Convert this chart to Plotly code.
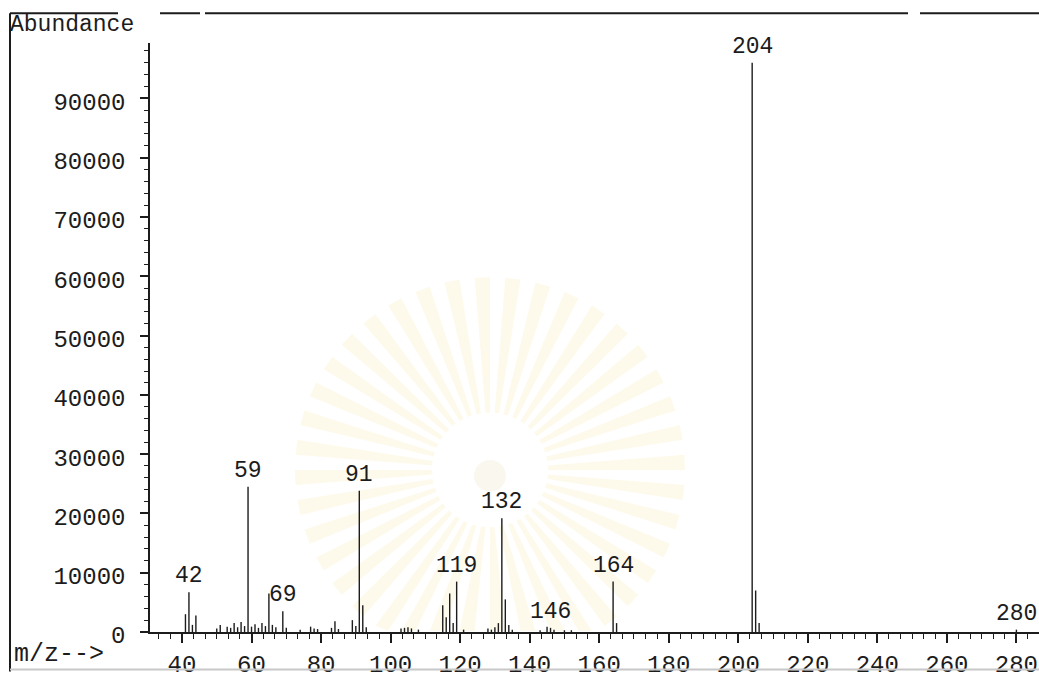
import math
import plotly.graph_objects as go

# ---- spectrum data (m/z, abundance) ----
mz = [41, 42, 43, 44, 50, 51, 53, 54, 55, 56, 57, 58, 59, 60, 61, 62, 63, 64,
      65, 66, 67, 69, 70, 74, 77, 78, 79, 83, 84, 85, 89, 90, 91, 92, 93,
      103, 104, 105, 106, 108, 115, 116, 117, 118, 119, 121, 128, 129, 130,
      131, 132, 133, 134, 135, 143, 145, 146, 147, 150, 152, 164, 165,
      204, 205, 206, 280]
abundance = [3000, 6700, 1200, 2800, 600, 1200, 900, 700, 1500, 800, 1700, 1000, 24500, 900, 1300, 700, 1500, 1000,
             6500, 1200, 800, 3500, 700, 400, 900, 600, 500, 700, 1800, 500, 2000, 1000, 23800, 4500, 800,
             600, 700, 800, 600, 400, 4500, 2500, 6500, 1500, 8500, 400, 600, 400, 800,
             1500, 19200, 5500, 1200, 400, 300, 900, 700, 400, 300, 300, 8500, 1500,
             96000, 7000, 1500, 400]
labelled_mz = [42, 59, 69, 91, 119, 132, 146, 164, 204, 280]

x_ticks = list(range(40, 281, 20))
y_ticks = list(range(0, 90001, 10000))

# ---- page geometry ----
W, H = 1039, 679
ML, MR, MT, MB = 150, 0, 43, 40
PW, PH = W - ML - MR, H - MT - MB

INK = "#1c1c1c"
FONT = "Liberation Mono"


def px(xp):
    return (xp - ML) / PW


def py(yp):
    return (H - MB - yp) / PH


# stems
xs, ys = [], []
for m, v in zip(mz, abundance):
    xs += [m, m, None]
    ys += [0, v, None]

fig = go.Figure()
fig.add_trace(go.Scatter(x=xs, y=ys, mode="lines",
                         line=dict(color=INK, width=1.4),
                         hoverinfo="skip", showlegend=False))

# peak labels
annotations = []
for m in labelled_mz:
    v = abundance[mz.index(m)]
    annotations.append(dict(x=m, y=v, xref="x", yref="y", text=str(m),
                            showarrow=False, yanchor="middle", yshift=16,
                            font=dict(family=FONT, size=23, color=INK)))

annotations.append(dict(x=px(8), y=py(25), xref="paper", yref="paper",
                        text="Abundance", showarrow=False, xanchor="left",
                        yanchor="middle", font=dict(family=FONT, size=23, color=INK)))
annotations.append(dict(x=px(12), y=py(662), xref="paper", yref="paper",
                        text="m/z-->", showarrow=False, xanchor="left",
                        yanchor="middle", font=dict(family=FONT, size=25, color=INK)))

# faint emblem in the background
shapes = []
cx, cy, r0, r1 = 490, 475, 58, 195
n_rays = 40
for k in range(n_rays):
    a0 = 2 * math.pi * k / n_rays
    a1 = a0 + 2 * math.pi / n_rays * 0.5
    pts = []
    for a, r in [(a0, r0), (a0, r1), (a1, r1), (a1, r0)]:
        xx = cx + r * math.cos(a)
        yy = min(cy - r * math.sin(a), 638)
        pts.append((px(xx), py(yy)))
    path = "M " + " L ".join(f"{p[0]:.5f},{p[1]:.5f}" for p in pts) + " Z"
    shapes.append(dict(type="path", path=path, xref="paper", yref="paper",
                       fillcolor="rgba(246,230,170,0.22)", line=dict(width=0),
                       layer="below"))
shapes.append(dict(type="circle", xref="paper", yref="paper",
                   x0=px(cx - 16), x1=px(cx + 16), y0=py(cy + 22), y1=py(cy - 10),
                   fillcolor="rgba(240,232,210,0.35)", line=dict(width=0),
                   layer="below"))

# outer frame of the printout
frame = dict(color=INK, width=2)
for x0, x1 in [(10, 118), (160, 200), (205, 908), (920, 1039)]:
    shapes.append(dict(type="line", xref="paper", yref="paper",
                       x0=px(x0), x1=px(x1), y0=py(13), y1=py(13), line=frame))
shapes.append(dict(type="line", xref="paper", yref="paper",
                   x0=px(10), x1=px(10), y0=py(13), y1=py(679), line=frame))
shapes.append(dict(type="line", xref="paper", yref="paper",
                   x0=px(10), x1=px(1039), y0=py(677), y1=py(677),
                   line=dict(color="#c8c8c8", width=2)))

fig.update_layout(
    width=W, height=H,
    margin=dict(l=ML, r=MR, t=MT, b=MB),
    paper_bgcolor="white", plot_bgcolor="white",
    annotations=annotations, shapes=shapes,
    showlegend=False,
)
fig.update_xaxes(
    range=[30.8, 286.5], showgrid=False, zeroline=False,
    showline=True, linecolor=INK, linewidth=1.5,
    tickmode="array", tickvals=x_ticks, ticktext=[str(t) for t in x_ticks],
    ticks="outside", ticklen=9, tickwidth=1.5, tickcolor=INK,
    tickfont=dict(family=FONT, size=24, color=INK),
    minor=dict(ticks="outside", ticklen=5, tickwidth=1.2, tickcolor=INK,
               tick0=40, dtick=20 / 6),
)
fig.update_yaxes(
    range=[0, 99330], showgrid=False, zeroline=False,
    showline=True, linecolor=INK, linewidth=1.5,
    tickmode="array", tickvals=y_ticks, ticktext=[str(t) for t in y_ticks],
    ticks="outside", ticklen=8, tickwidth=1.5, tickcolor=INK,
    ticklabelstandoff=10, ticklabelshift=3,
    tickfont=dict(family=FONT, size=24, color=INK),
    minor=dict(ticks="outside", ticklen=4, tickwidth=1.2, tickcolor=INK,
               tick0=0, dtick=2000),
)

fig.write_html("out.html")
